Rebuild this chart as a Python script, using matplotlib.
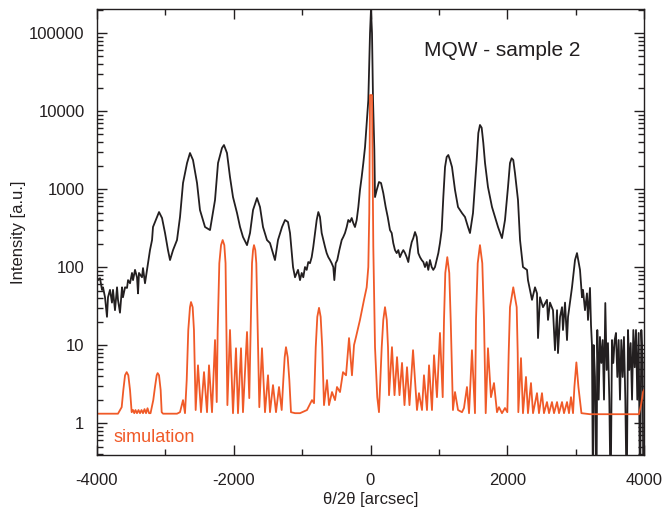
import matplotlib
matplotlib.use("Agg")
import matplotlib.pyplot as plt
from matplotlib.ticker import FixedLocator, FuncFormatter, LogLocator, NullFormatter, MultipleLocator

plt.rcParams['font.family'] = ['Liberation Sans', 'DejaVu Sans']
plt.rcParams['axes.unicode_minus'] = False

# measured curve (black)
meas_x = [-4000, -3985, -3956, -3927, -3912, -3883, -3854, -3839, -3810, -3781, -3766, -3737, -3707, -3693,
          -3664, -3634, -3620, -3590, -3561, -3546, -3517, -3488, -3473, -3444, -3415, -3400, -3386, -3342,
          -3327, -3298, -3268, -3254, -3225, -3195, -3181, -3122, -3093, -3049, -3005, -2962, -2932, -2888,
          -2830, -2786, -2742, -2683, -2640, -2596, -2537, -2494, -2420, -2347, -2274, -2230, -2172, -2143,
          -2099, -2055, -2011, -1952, -1908, -1865, -1806, -1762, -1718, -1660, -1616, -1572, -1514, -1470,
          -1426, -1397, -1353, -1294, -1250, -1207, -1177, -1133, -1104, -1060,
          -1031, -1006, -983, -958, -933, -910, -885, -860, -837, -812, -787, -763, -739, -714, -690, -665,
          -641, -617, -592, -568, -544, -529, -509, -486, -456, -421, -398, -373, -348, -325, -300, -275,
          -252, -227, -202, -178, -154, -129, -105, -80, -56, -32, -7, 7, 22, 37, 56, 66, 91, 124, 154,
          187, 222, 252, 285, 310, 333, 358, 383, 407, 431, 456, 480, 505, 529, 553, 578, 603, 626, 651,
          676, 699, 724, 749, 773, 797, 822, 845, 870, 895, 918, 943, 968, 992, 1016, 1041, 1065, 1090,
          1114, 1138, 1163, 1192, 1236, 1280, 1338, 1382, 1426, 1455, 1499, 1553, 1577, 1601, 1626, 1650,
          1675, 1718, 1777, 1821, 1865, 1923, 1967, 2011, 2040, 2064, 2088, 2113, 2157,
          2187, 2230, 2289, 2303, 2362, 2406, 2435, 2450, 2479, 2523, 2581, 2596, 2625, 2669, 2698, 2728,
          2742, 2772, 2801, 2815, 2845, 2874, 2889, 2947, 2991, 3020, 3064, 3093, 3108, 3137, 3166, 3181,
          3210, 3225, 3239, 3254, 3264, 3283, 3305, 3317, 3337, 3356, 3376, 3396, 3415, 3434, 3454, 3473,
          3493, 3512, 3532, 3551, 3571, 3590, 3610, 3629, 3649, 3668, 3688, 3707, 3727, 3747, 3766, 3785,
          3805, 3825, 3844, 3864, 3883, 3902, 3922, 3942, 3961, 3981, 3990]
meas_y = [74, 68, 72, 51, 55, 41, 23, 41, 51, 35, 51, 28, 55, 38,
          26, 55, 41, 55, 54, 68, 62, 84, 68, 92, 74, 46, 84, 74,
          97, 62, 92, 112, 165, 222, 326, 438, 507, 425, 273, 165, 123, 165,
          222, 438, 1194, 2154, 2895, 2354, 1194, 538, 326, 298, 723, 2154, 3357, 3664,
          2895, 1426, 789, 492, 326, 243, 191, 273, 538, 767, 588, 326, 222, 203,
          151, 123, 222, 326, 401, 378, 273, 100, 74, 92,
          68, 84, 74, 100, 92, 116, 112, 134, 181, 273, 401, 507, 438, 273, 222, 181,
          151, 134, 123, 112, 100, 68, 112, 123, 165, 222, 243, 273, 326, 401, 378, 425,
          367, 326, 401, 588, 971, 1426, 2154, 3455, 7020, 13800, 100000, 200000, 100000, 13800, 3162, 789, 971, 1230, 1194,
          889, 588, 438, 298, 273, 203, 165, 151, 165, 134, 151, 165, 151, 134, 116, 165, 209, 235, 281,
          243, 151, 134, 123, 116, 100, 116, 92, 123, 100, 92, 100, 123, 151, 203, 298, 789, 1914,
          2574, 2729, 2354, 1914, 971, 588, 492, 438, 326, 273, 492, 2354, 5220, 6620, 6100, 3890,
          2154, 1061, 588, 438, 326, 235, 401, 1061, 2154, 2480, 2354, 1604, 723,
          222, 100, 92, 68, 38, 55, 46, 12.3, 41, 30.6, 38, 21, 35, 28, 8.6, 28,
          7.9, 23, 30.6, 15.6, 35, 11.6, 23, 55, 123, 151, 92, 41, 51, 28, 46, 21,
          54, 18, 10, 0.1, 10, 3.9, 0.1, 15.6, 2.0, 12.7, 5.9, 11.6, 2.0, 34.6, 4.8, 10.6,
          2.0, 0.1, 11.6, 5.9, 11.6, 14.3, 3.9, 11.6, 2.0, 11.6, 3.9, 12.7, 2.0, 0.1, 15.6, 4.8,
          10.6, 2.0, 15.6, 5.2, 15.6, 2.0, 14.3, 0.1, 15.6, 5.9, 0.1]

# simulation curve (red)
sim_x = [-4000, -3693, -3639, -3615, -3590, -3566, -3542, -3517, -3493, -3473, -3455, -3437, -3415, -3393,
         -3371, -3349, -3327, -3305, -3283, -3261, -3239, -3217, -3195, -3177, -3152, -3127, -3113, -3093,
         -3069, -3054, -3034, -2830, -2786, -2742, -2713,
         -2688, -2665, -2640, -2625, -2601, -2582, -2567, -2557,
         -2523, -2479, -2435, -2391, -2362, -2318, -2274, -2249,
         -2235, -2211, -2186, -2162, -2138, -2120, -2108, -2093,
         -2055, -2011, -1967, -1938, -1894, -1865, -1806, -1773,
         -1752, -1733, -1718, -1704, -1685, -1670, -1650, -1626,
         -1587, -1543, -1499, -1470, -1426, -1382, -1338, -1299,
         -1275, -1255, -1236, -1211, -1187, -1163,
         -1104, -1031, -929, -856, -826,
         -801, -778, -753, -729, -706, -680,
         -636, -607, -563, -519, -490, -446, -402, -358, -314, -271, -241, -212, -154, -95, -56, -32, -18,
         -7, 22, 41, 66, 99, 124,
         164, 187, 212, 238, 256, 271,
         314, 351, 388, 424, 461, 497, 534, 570, 622, 680, 709, 753, 782, 826, 856, 899, 929, 972, 1016, 1056,
         1075, 1094, 1123, 1152, 1173, 1206,
         1236, 1280, 1338, 1367, 1411, 1441, 1484, 1528,
         1543, 1568, 1601, 1635, 1660, 1685,
         1718, 1762, 1806, 1850, 1879, 1923, 1967, 2001,
         2021, 2040, 2088, 2138, 2153, 2162,
         2201, 2230, 2274, 2303, 2347, 2377, 2435, 2464, 2508, 2537, 2581, 2611, 2654, 2684, 2728, 2757,
         2801, 2830, 2874, 2903, 2932, 2962,
         2982, 3011, 3041, 3085,
         3210, 3927, 3956, 3986, 4000]
sim_y = [1.32, 1.32, 1.60, 2.65, 4.1, 4.5, 4.1, 2.65, 1.38, 1.47, 1.34, 1.47, 1.34, 1.47,
         1.34, 1.47, 1.34, 1.51, 1.34, 1.55, 1.34, 1.34, 1.65, 1.97, 2.9, 4.1, 4.37, 4.1,
         2.65, 1.38, 1.32, 1.32, 1.38, 1.97, 1.34,
         3.56, 15.6, 30.6, 35.6, 30.6, 15.6, 3.56, 1.47,
         5.5, 1.38, 4.5, 1.38, 5.5, 1.38, 11.6, 1.86,
         15.6, 112, 191, 222, 191, 112, 15.6, 1.70,
         15.6, 1.34, 9.1, 1.34, 9.1, 1.38, 14.7, 2.09,
         15.6, 112, 165, 191, 165, 112, 15.6, 1.60,
         9.1, 1.38, 4.1, 1.38, 3.07, 1.38, 2.9, 1.47,
         3.56, 7.0, 9.4, 7.0, 3.56, 1.38,
         1.34, 1.34, 1.47, 1.97, 1.80,
         9.4, 23, 30, 23, 9.4, 1.70,
         3.56, 1.70, 2.5, 1.97, 2.9, 2.5, 4.5, 4.1, 12.3, 4.1, 10, 12.7, 21, 38, 55, 100, 492,
         16000, 16000, 181, 9.4, 2.15, 1.38,
         9.4, 21, 30.6, 21, 9.4, 2.28,
         9.4, 2.28, 7.0, 2.28, 5.9, 1.70, 5.2, 1.70, 8.6, 1.47, 2.42, 1.47, 4.1, 1.47, 5.5, 1.47, 7.4, 2.15, 14.3, 2.15,
         21, 84, 134, 84, 21, 1.47,
         2.5, 1.47, 1.38, 1.56, 2.9, 1.34, 8.6, 1.34,
         21, 112, 191, 112, 21, 1.34,
         9.1, 2.15, 3.26, 1.38, 1.60, 1.34, 1.56, 1.38,
         7.9, 30.6, 55, 30.6, 7.9, 1.38,
         6.8, 1.34, 3.9, 1.34, 3.26, 1.34, 2.42, 1.34, 2.42, 1.34, 1.86, 1.34, 1.86, 1.34, 1.86, 1.34,
         1.86, 1.34, 1.86, 1.34, 2.15, 1.34,
         2.9, 6.0, 2.9, 1.34,
         1.30, 1.30, 1.70, 2.5, 2.65]

x_ticks = [-4000, -2000, 0, 2000, 4000]
y_ticks = [1, 10, 100, 1000, 10000, 100000]

fig = plt.figure(figsize=(6.65, 5.15), dpi=100)
ax = fig.add_axes([97 / 665, 60 / 515, 547 / 665, 446 / 515])

ax.plot(meas_x, meas_y, color='#231F20', lw=1.3)
ax.plot(sim_x, sim_y, color='#F05A28', lw=1.3)

ax.set_yscale('log')
ax.set_xlim(-4000, 4000)
ax.set_ylim(0.39, 2.03e5)

ax.xaxis.set_major_locator(FixedLocator(x_ticks))
ax.xaxis.set_major_formatter(FuncFormatter(lambda v, p: '%d' % v))
ax.xaxis.set_minor_locator(MultipleLocator(1000))
ax.yaxis.set_major_locator(FixedLocator(y_ticks))
ax.yaxis.set_major_formatter(FuncFormatter(lambda v, p: '%d' % v))
ax.yaxis.set_minor_locator(LogLocator(base=10, subs=range(2, 10), numticks=20))
ax.yaxis.set_minor_formatter(NullFormatter())

ax.tick_params(which='both', direction='in', top=True, right=True, labelsize=12, colors='#231F20')
ax.tick_params(which='major', length=7, width=1)
ax.tick_params(which='minor', length=4, width=1)
ax.tick_params(axis='x', which='major', pad=13)
ax.tick_params(axis='y', which='major', pad=9)
for s in ax.spines.values():
    s.set_linewidth(1.0)
    s.set_color('#231F20')

ax.set_xlabel('θ/2θ [arcsec]', fontsize=12, color='#231F20', labelpad=2.5)
ax.set_ylabel('Intensity [a.u.]', fontsize=12, color='#231F20', labelpad=2.5)

ax.text(0.74, 0.908, 'MQW - sample 2', transform=ax.transAxes, fontsize=15,
        ha='center', va='center', color='#231F20')
ax.text(0.03, 0.04, 'simulation', transform=ax.transAxes, fontsize=13,
        ha='left', va='center', color='#F05A28')

fig.savefig('out.png', dpi=100)
